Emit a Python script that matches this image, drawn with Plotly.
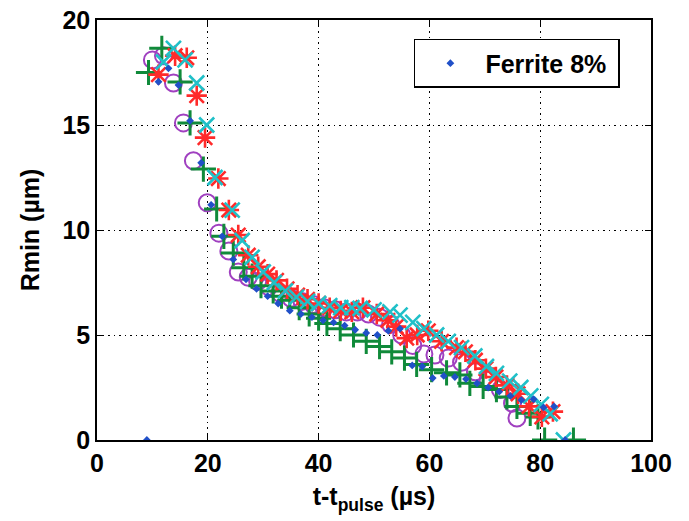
import plotly.graph_objects as go

# Ferrite 8% (blue dots)
blue_x = [9, 11.1, 12.9, 14.7, 16.8, 18.8, 20.6, 22.6, 24.6, 26.9, 28.8, 30.8, 32.7, 34.8, 36.8, 38.8, 40.8, 42.7, 44.7, 46.6, 48.6, 50.6, 52.6, 54.7, 56.9, 58.7, 60.6, 62.6, 64.6, 66.6, 68.6, 70.6, 72.6, 74.6, 76.6, 78.8, 80.6, 82.5, 84.5]
blue_y = [0, 17.06, 17.7, 16.9, 15.2, 13.2, 11.2, 9.7, 8.6, 7.65, 7.2, 6.85, 6.5, 6.16, 6.0, 5.85, 5.7, 5.6, 5.45, 5.25, 5.1, 5.0, 5.2, 5.3, 3.55, 3.5, 2.95, 3.05, 3.0, 2.9, 2.7, 2.5, 2.3, 2.1, 1.9, 1.94, 1.55, 1.6, 0]

purple_x = [10, 12, 13.8, 15.6, 17.4, 19.9, 22, 23.8, 25.5, 27.3, 29, 31, 33, 35, 37, 39, 41, 43, 45, 47, 49, 51, 53, 55, 57, 59, 61, 63.4, 65.8, 68.3, 70.6, 72.8, 75, 75.8]
purple_y = [18.1, 18.3, 17.0, 15.1, 13.3, 11.3, 9.85, 9.0, 8.0, 7.75, 7.55, 7.3, 7.0, 6.75, 6.6, 6.45, 6.3, 6.2, 6.1, 6.1, 6.0, 5.85, 5.5, 5.0, 4.5, 4.1, 4.05, 3.9, 3.7, 3.25, 2.85, 2.4, 1.75, 1.05]

green_x = [9.3, 11.7, 15.0, 16.8, 19.2, 21.6, 22.9, 24.6, 26.5, 28, 29.6, 31.8, 33.3, 34.8, 36.5, 38.3, 40, 41.5, 43.9, 46.3, 48.6, 51, 53.2, 55.5, 57.7, 60.4, 63.1, 65.5, 67.3, 69.7, 72.1, 74, 75.8, 78.2, 79.6, 80.8, 86]
green_y = [17.5, 18.65, 17.05, 15.1, 12.9, 11.0, 9.7, 8.9, 8.2, 7.8, 7.35, 7.1, 6.85, 6.65, 6.3, 6.0, 5.8, 5.55, 5.3, 5.0, 4.7, 4.45, 4.2, 3.9, 3.6, 3.35, 3.2, 3.1, 2.7, 2.55, 2.4, 2.05, 1.6, 1.27, 1.1, 0, 0]

red_x = [11.1, 14.1, 16.2, 18, 19.5, 21.9, 23.8, 25.5, 27.3, 29.1, 30.8, 32.4, 34.3, 36.2, 38, 40, 42, 44, 46, 48, 50.5, 52.5, 54, 55.9, 57.8, 59.8, 62.2, 64.9, 66.5, 68.3, 70.2, 72, 74, 76, 78, 80.3, 82.3]
red_y = [17.4, 18.3, 18.2, 16.4, 14.4, 12.45, 10.95, 9.76, 8.8, 8.25, 7.9, 7.6, 7.2, 6.9, 6.7, 6.5, 6.3, 6.15, 6.1, 6.3, 6.0, 5.7, 5.4, 4.85, 5.0, 5.2, 4.7, 4.4, 4.2, 3.8, 3.4, 3.0, 2.6, 2.2, 1.6, 1.1, 1.35]

cyan_x = [12, 13.8, 15.9, 18, 19.8, 21.3, 24.4, 26.2, 28, 30, 32, 34, 36, 38, 40, 42, 44, 46, 47.5, 50, 52.9, 54.7, 57, 59, 61.3, 63.4, 65.8, 68.2, 70.3, 72.1, 74.5, 76.5, 78.3, 80.2, 81.8, 84.2]
cyan_y = [18.0, 18.65, 18.1, 17.0, 15.0, 12.5, 10.95, 9.5, 8.7, 8.0, 7.5, 7.1, 6.8, 6.6, 6.5, 6.4, 6.3, 6.3, 6.27, 6.2, 6.1, 5.95, 5.6, 5.3, 5.0, 4.7, 4.4, 4.0, 3.5, 3.17, 2.8, 2.5, 2.1, 1.7, 1.25, 0]

x_ticks = [0, 20, 40, 60, 80, 100]
y_ticks = [0, 5, 10, 15, 20]

FONT = "Liberation Sans, Arial"

fig = go.Figure()
fig.add_trace(go.Scatter(x=purple_x, y=purple_y, mode="markers", showlegend=False,
    marker=dict(symbol="circle-open", size=17, color="#a040c0", line=dict(width=2, color="#a040c0"))))
fig.add_trace(go.Scatter(x=green_x, y=green_y, mode="markers", showlegend=False,
    marker=dict(symbol="cross-thin-open", size=18, color="#108a3a", line=dict(width=3, color="#108a3a"))))
fig.add_trace(go.Scatter(x=red_x, y=red_y, mode="markers", showlegend=False,
    marker=dict(symbol="asterisk-open", size=17, color="#ff2a2a", line=dict(width=2.6, color="#ff2a2a"))))
fig.add_trace(go.Scatter(x=cyan_x, y=cyan_y, mode="markers", showlegend=False,
    marker=dict(symbol="x-thin-open", size=15, color="#20c0c8", line=dict(width=2.6, color="#20c0c8"))))
fig.add_trace(go.Scatter(x=blue_x, y=blue_y, mode="markers", name="Ferrite 8%\u00a0", showlegend=True,
    marker=dict(symbol="diamond", size=6, color="#2050c8")))

axis_common = dict(
    showline=True, linecolor="black", linewidth=1.5, mirror="ticks",
    ticks="inside", ticklen=6, tickcolor="black", tickwidth=1,
    showgrid=True, gridcolor="black", gridwidth=1, griddash="1.5px,4px",
    zeroline=False, automargin=False, ticklabeloverflow="allow",
    tickfont=dict(family=FONT, size=25, color="black", weight="bold"),
)
fig.update_xaxes(range=[0, 100], tickvals=x_ticks, **axis_common,
    title=dict(text="t-t<sub>pulse</sub> (µs)", standoff=12,
               font=dict(family=FONT, size=25, color="black", weight="bold")))
fig.update_yaxes(range=[0, 20], tickvals=y_ticks, **axis_common,
    title=dict(text="Rmin (µm)", standoff=16,
               font=dict(family=FONT, size=25, color="black", weight="bold")))

fig.update_layout(
    width=689, height=521,
    margin=dict(l=89, r=46, t=12, b=89),
    paper_bgcolor="white", plot_bgcolor="white",
    legend=dict(x=0.572, y=0.955, xanchor="left", yanchor="top",
                bgcolor="white", bordercolor="black", borderwidth=1.5,
                itemwidth=60,
                font=dict(family=FONT, size=25, color="black", weight="bold")),
)

fig.write_html("out.html")
